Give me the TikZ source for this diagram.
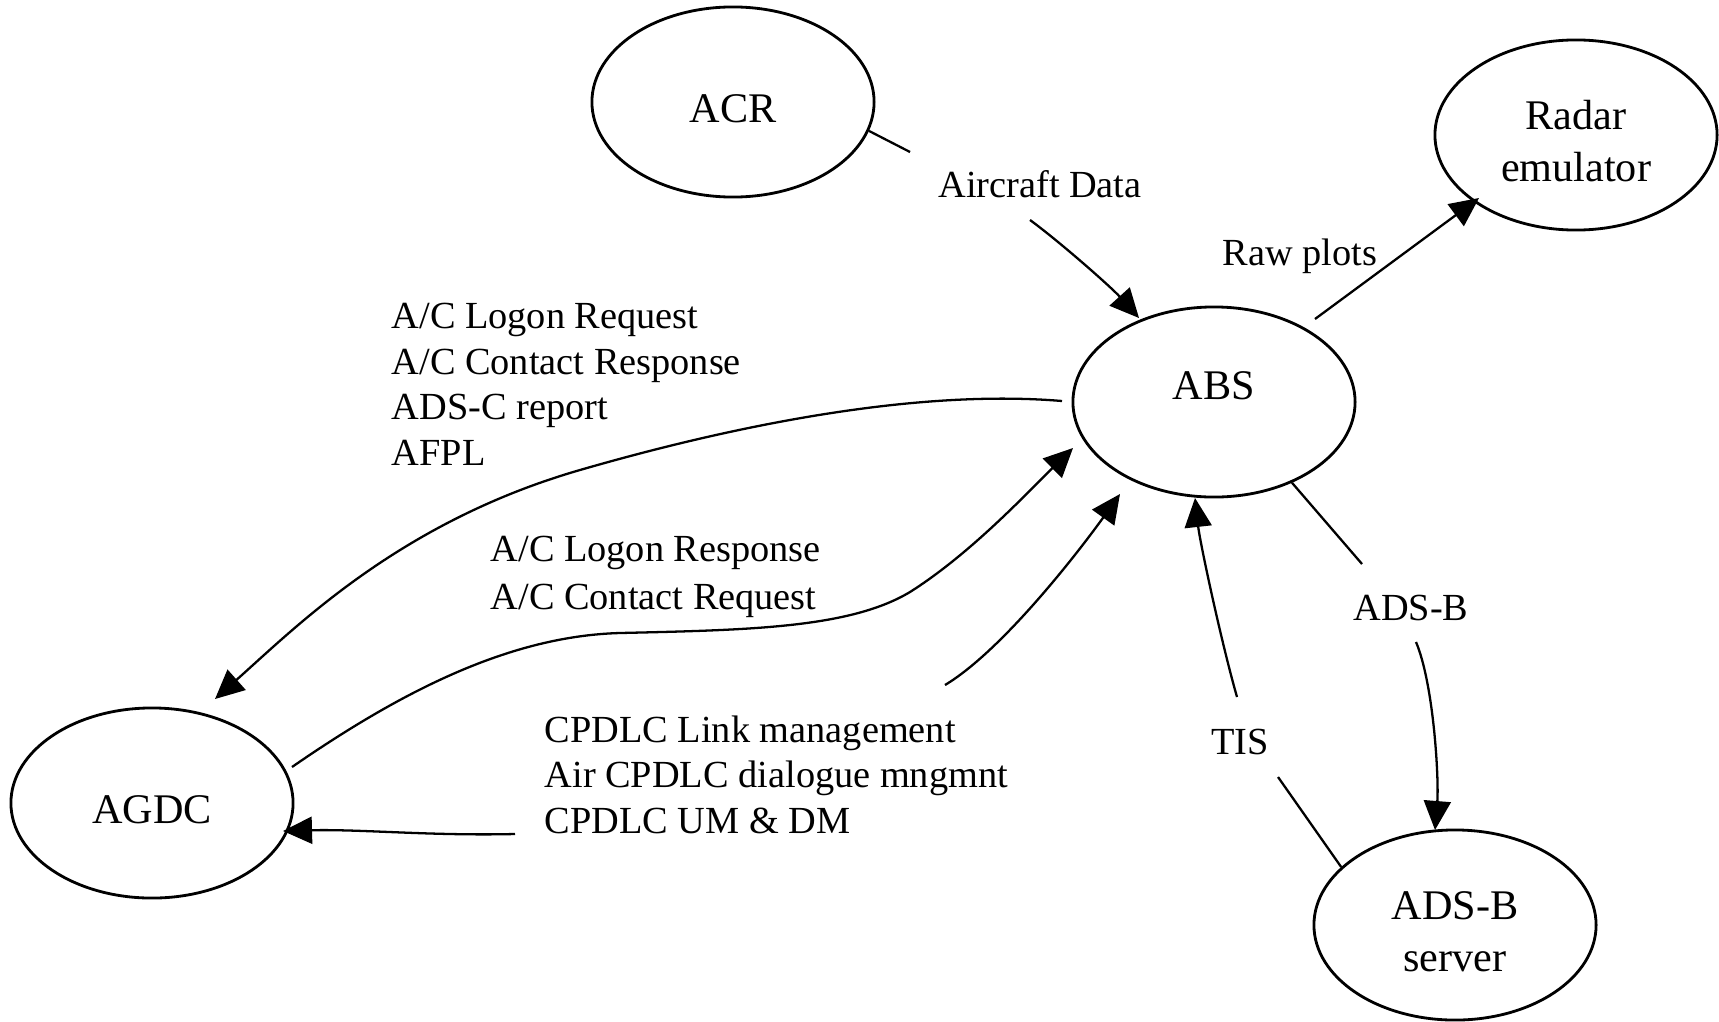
\documentclass[tikz,border=0pt]{standalone}
\usepackage{fontspec}
\setmainfont{Liberation Serif}
\usetikzlibrary{arrows.meta,shapes.geometric}
\begin{document}
\begin{tikzpicture}[x=0.01cm,y=-0.01cm,
  proc/.style={draw, ellipse, line width=0.8pt, minimum width=2.82cm, minimum height=1.90cm, inner sep=0pt, align=center, font=\fontsize{12}{14.6}\selectfont},
  lbl/.style={inner sep=0pt, align=left, font=\fontsize{10.9}{12.9}\selectfont},
  flow/.style={line width=0.65pt},
  arr/.style={flow, -{Triangle[length=0.29cm,width=0.27cm]}}]
\useasboundingbox (0,0) rectangle (1719,1021);

% processes
\node[proc, text height=0.40cm, text depth=0cm] (ACR) at (733,102) {ACR};
\node[proc, text height=0.92cm, text depth=0cm] (RAD) at (1576,135) {Radar\\emulator};
\node[proc, text height=0.28cm, text depth=0.33cm] (ABS) at (1214,402) {ABS};
\node[proc, text height=0.40cm, text depth=0cm] (AGDC) at (152,803) {AGDC};
\node[proc, text height=0.92cm, text depth=0cm] (SRV) at (1455,925) {ADS-B\\server};

% labels (base anchor = baseline of the last line)
\node[lbl, anchor=base] (lAD) at (1040,197) {Aircraft Data};
\node[lbl, anchor=base] (lRaw) at (1300,265) {Raw plots};
\node[lbl, anchor=base west] (lReq) at (391,465) {A/C Logon Request\\A/C Contact Response\\ADS-C report\\AFPL};
\node[lbl, anchor=base west, font=\fontsize{10.9}{13.4}\selectfont] (lResp) at (490,609) {A/C Logon Response\\A/C Contact Request};
\node[lbl, anchor=base west] (lCP) at (544,833) {CPDLC Link management\\Air CPDLC dialogue mngmnt\\CPDLC UM \& DM};
\node[lbl, anchor=base] (lTIS) at (1240,754) {TIS};
\node[lbl, anchor=base] (lADSB) at (1411,620) {ADS-B};

% free ends of connectors
\coordinate (adA) at (910,152);
\coordinate (adB) at (1030,220);
\coordinate (adT) at (1139,318);
\coordinate (rawS) at (1315,319);
\coordinate (rawT) at (1479,198);
\coordinate (reqS) at (1062,401);
\coordinate (reqM) at (580,470);
\coordinate (reqT) at (215,699);
\coordinate (respS) at (292,767);
\coordinate (respM) at (620,633);
\coordinate (respN) at (910,592);
\coordinate (respT) at (1073,448);
\coordinate (cpA) at (945,685);
\coordinate (cpT) at (1120,494);
\coordinate (cpB) at (515,834);
\coordinate (cpU) at (283,831);
\coordinate (tisA) at (1278,777);
\coordinate (tisB) at (1237,697);
\coordinate (tisT) at (1195,498);
\coordinate (adsA) at (1362,564);
\coordinate (adsB) at (1416,642);
\coordinate (adsT) at (1435,830);

% connectors
\draw[flow] (ACR.-12) -- (adA);
\draw[arr] (adB) .. controls (1060,242) and (1111,287) .. (adT);
\draw[arr] (rawS) -- (rawT);
\draw[arr] (reqS) .. controls (930,390) and (760,418) .. (reqM)
               .. controls (400,522) and (297,626) .. (reqT);
\draw[arr] (respS) .. controls (402,691) and (510,636) .. (respM)
               .. controls (750,630) and (850,628) .. (respN)
               .. controls (970,554) and (1025,495) .. (respT);
\draw[arr] (cpA) .. controls (1005,649) and (1085,543) .. (cpT);
\draw[arr] (cpB) .. controls (430,836) and (360,829) .. (cpU);
\draw[flow] (SRV.153) -- (tisA);
\draw[arr] (tisB) .. controls (1222,645) and (1200,543) .. (tisT);
\draw[flow] (ABS.-46.6) -- (adsA);
\draw[arr] (adsB) .. controls (1434,685) and (1439,780) .. (adsT);
\end{tikzpicture}
\end{document}
